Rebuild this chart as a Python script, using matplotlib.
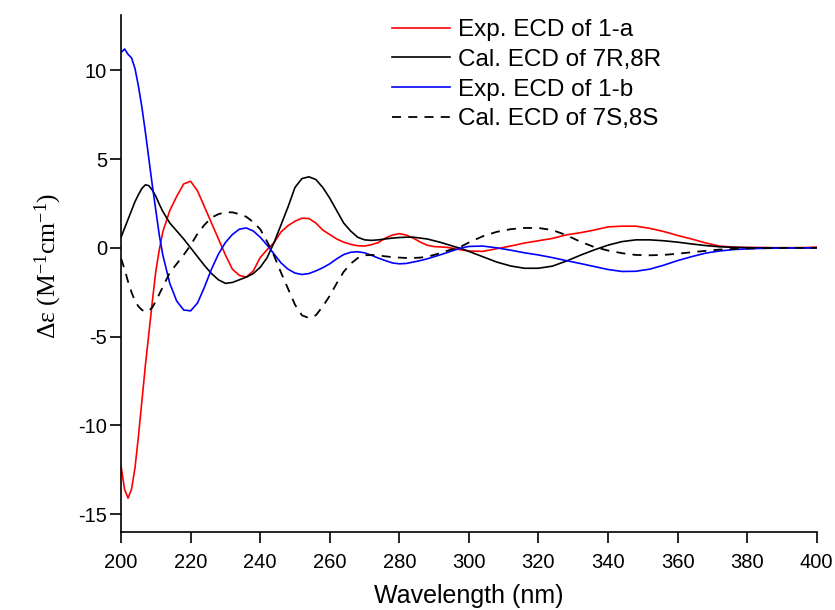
import matplotlib
matplotlib.use("Agg")
import matplotlib.pyplot as plt

wavelength = [200, 201, 202, 203, 204, 205, 206, 207, 208, 209, 210, 211, 212,
              214, 216, 218, 220, 222, 224, 226, 228, 230, 232, 234, 236, 238, 240,
              242, 244, 246, 248, 250, 252, 254, 256, 258, 260, 262, 264, 266, 268,
              270, 272, 274, 276, 278, 280, 282, 284, 286, 288, 290, 292, 294, 296,
              298, 300, 304, 308, 312, 316, 320, 324, 328, 332, 336, 340, 344, 348,
              352, 356, 360, 364, 368, 372, 376, 380, 384, 388, 392, 396, 400]

exp_1a = [-12.3, -13.6, -14.1, -13.6, -12.4, -10.6, -8.6, -6.6, -4.8, -3.0, -1.3, -0.1, 0.9,
          2.1, 2.9, 3.6, 3.75, 3.2, 2.3, 1.4, 0.5, -0.4, -1.2, -1.55, -1.65, -1.3, -0.55,
          -0.1, 0.3, 0.9, 1.25, 1.5, 1.67, 1.65, 1.4, 1.0, 0.75, 0.5, 0.32, 0.2, 0.12,
          0.1, 0.18, 0.3, 0.55, 0.72, 0.8, 0.72, 0.55, 0.33, 0.15, 0.07, 0.05, 0.02, -0.05,
          -0.12, -0.18, -0.2, -0.05, 0.1, 0.27, 0.4, 0.53, 0.73, 0.85, 1.0, 1.18, 1.22, 1.22,
          1.1, 0.92, 0.7, 0.5, 0.28, 0.1, 0.04, 0.02, 0.02, 0.01, 0.01, 0.01, 0.04]

cal_7R8R = [0.6, 1.1, 1.6, 2.1, 2.6, 3.0, 3.35, 3.55, 3.5, 3.25, 2.9, 2.45, 2.05,
            1.4, 0.95, 0.5, 0.0, -0.5, -1.0, -1.45, -1.8, -2.0, -1.95, -1.8, -1.65, -1.45, -1.1,
            -0.55, 0.3, 1.3, 2.3, 3.4, 3.9, 4.0, 3.85, 3.4, 2.8, 2.1, 1.4, 0.95, 0.6,
            0.45, 0.42, 0.45, 0.5, 0.55, 0.58, 0.6, 0.6, 0.55, 0.5, 0.4, 0.3, 0.18, 0.06,
            -0.05, -0.2, -0.5, -0.8, -1.02, -1.15, -1.15, -1.03, -0.75, -0.42, -0.12, 0.15, 0.35, 0.45,
            0.45, 0.4, 0.32, 0.22, 0.13, 0.06, 0.03, 0.01, 0.0, 0.0, 0.0, 0.0, 0.0]

exp_1b = [11.0, 11.2, 10.9, 10.7, 10.1, 9.1, 7.9, 6.5, 5.0, 3.5, 2.1, 0.7, -0.4,
          -2.0, -3.0, -3.5, -3.55, -3.1, -2.2, -1.2, -0.35, 0.3, 0.75, 1.05, 1.12, 0.95, 0.6,
          0.15, -0.35, -0.85, -1.2, -1.42, -1.5, -1.45, -1.3, -1.12, -0.9, -0.62, -0.38, -0.25, -0.22,
          -0.28, -0.42, -0.58, -0.72, -0.85, -0.9, -0.88, -0.8, -0.72, -0.62, -0.5, -0.38, -0.25, -0.12,
          0.0, 0.08, 0.1, 0.0, -0.13, -0.28, -0.4, -0.55, -0.72, -0.88, -1.05, -1.22, -1.33, -1.32,
          -1.2, -0.98, -0.72, -0.5, -0.3, -0.18, -0.1, -0.06, -0.03, -0.02, -0.01, 0.0, 0.0]

cal_7S8S = [-0.6, -1.2, -1.9, -2.5, -3.0, -3.3, -3.5, -3.6, -3.55, -3.35, -3.0, -2.6, -2.2,
            -1.4, -0.9, -0.4, 0.15, 0.8, 1.3, 1.7, 1.9, 2.0, 2.0, 1.9, 1.75, 1.45, 1.05,
            0.35, -0.45, -1.4, -2.3, -3.2, -3.8, -3.95, -3.8, -3.3, -2.7, -2.0, -1.35, -0.9, -0.58,
            -0.42, -0.4, -0.43, -0.48, -0.52, -0.55, -0.57, -0.57, -0.55, -0.5, -0.4, -0.28, -0.15, -0.03,
            0.1, 0.3, 0.65, 0.9, 1.05, 1.12, 1.12, 1.0, 0.72, 0.35, 0.05, -0.15, -0.3, -0.4,
            -0.42, -0.4, -0.33, -0.25, -0.17, -0.1, -0.06, -0.03, -0.02, -0.01, 0.0, 0.0, 0.0]

labels = ["Exp. ECD of 1-a", "Cal. ECD of 7R,8R", "Exp. ECD of 1-b", "Cal. ECD of 7S,8S"]
x_ticks = [200, 220, 240, 260, 280, 300, 320, 340, 360, 380, 400]
y_ticks = [-15, -10, -5, 0, 5, 10]

plt.rcParams['font.family'] = ['Liberation Sans', 'DejaVu Sans']
plt.rcParams['axes.unicode_minus'] = False
plt.rcParams['mathtext.fontset'] = 'custom'
plt.rcParams['mathtext.rm'] = 'Liberation Serif'
plt.rcParams['mathtext.it'] = 'Liberation Serif:italic'

fig = plt.figure(figsize=(8.35, 6.1), dpi=100)
ax = fig.add_axes([0.145, 0.128, 0.833, 0.847])

lw = 1.2
ax.plot(wavelength, exp_1a, color='#ff0000', lw=lw, label=labels[0])
ax.plot(wavelength, cal_7R8R, color='#000000', lw=lw, label=labels[1])
ax.plot(wavelength, exp_1b, color='#0000ff', lw=lw, label=labels[2])
ax.plot(wavelength, cal_7S8S, color='#000000', lw=1.3, linestyle=(0, (5, 4)), label=labels[3])

ax.set_xlim(200, 400)
ax.set_ylim(-16, 13.1)
ax.set_xticks(x_ticks)
ax.set_yticks(y_ticks)
ax.spines['top'].set_visible(False)
ax.spines['right'].set_visible(False)
for s in ('left', 'bottom'):
    ax.spines[s].set_linewidth(1.2)
ax.tick_params(direction='out', length=8, width=1.2, labelsize=14.5)
ax.tick_params(axis='x', pad=7)
ax.tick_params(axis='y', pad=2)

ax.set_xlabel("Wavelength (nm)", fontsize=18, labelpad=9)
ax.set_ylabel("\u0394\u03b5 (M$^{\\mathregular{-1}}$cm$^{\\mathregular{-1}}$)", fontsize=18.5,
              family=['Liberation Serif', 'DejaVu Serif'])
ax.yaxis.set_label_coords(-0.082, 0.514)

leg = ax.legend(loc='upper left', bbox_to_anchor=(392 / 835, 1 - 19 / 610),
                bbox_transform=fig.transFigure, frameon=False, fontsize=17.5,
                handlelength=2.39, handletextpad=0.33, labelspacing=0.32,
                borderaxespad=0, borderpad=0)

fig.savefig("out.png", dpi=100)
